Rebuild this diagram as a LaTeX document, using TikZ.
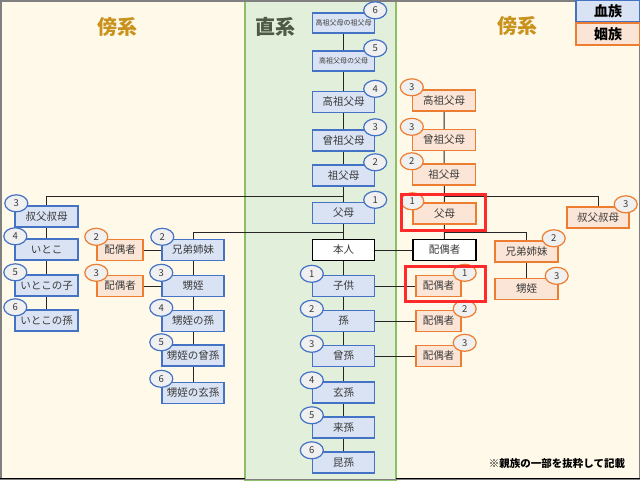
\documentclass[tikz,border=0pt]{standalone}
\usepackage{fontspec}
\setmainfont{Noto Sans CJK JP}
\usetikzlibrary{shapes.geometric}
\definecolor{cream}{HTML}{FFF9EA}
\definecolor{panelg}{HTML}{E2EFDA}
\definecolor{paneledge}{HTML}{8CC068}
\definecolor{bfill}{HTML}{DAE3F3}
\definecolor{bedge}{HTML}{4472C4}
\definecolor{ofill}{HTML}{FBE5D6}
\definecolor{oedge}{HTML}{ED7D31}
\definecolor{gold}{HTML}{C8921C}
\definecolor{dgreen}{HTML}{4F5A46}
\definecolor{txt}{HTML}{3A3A3A}
\definecolor{hred}{HTML}{FF2A2A}
\pgfdeclarelayer{bg}
\pgfdeclarelayer{lines}
\pgfsetlayers{bg,lines,main}
\tikzset{
 box/.style={rectangle, line width=1.4pt, minimum height=21pt, inner sep=0pt, text=txt, font=\fontsize{10.5}{12}\selectfont},
 blu/.style={box, draw=bedge, fill=bfill, minimum width=62pt},
 tiny/.style={font=\fontsize{7}{8}\selectfont},
 org/.style={box, draw=oedge, fill=ofill, minimum width=63pt},
 orgs/.style={org, minimum width=45pt},
 wht/.style={box, draw=black, fill=white, minimum width=62pt},
 bdg/.style={ellipse, fill=white!94!black, line width=1.2pt, minimum width=23pt, minimum height=17pt, inner sep=0pt, text=txt, font=\fontsize{9.5}{9.5}\selectfont},
 bb/.style={bdg, draw=bedge},
 ob/.style={bdg, draw=oedge},
 conn/.style={line width=1pt, draw=black!85},
 title/.style={font=\bfseries\fontsize{20}{20}\selectfont},
 legend/.style={rectangle, line width=1.2pt, minimum width=64pt, minimum height=22pt, inner sep=0pt, font=\bfseries\fontsize{14}{14}\selectfont},
 hl/.style={draw=hred, line width=3pt},
}
\begin{document}
\begin{tikzpicture}[x=1pt,y=-1pt]
\useasboundingbox (0,0) rectangle (640,480);
\begin{pgfonlayer}{bg}
 \fill[cream] (0,0) rectangle (640,480);
 \fill[panelg] (245,0) rectangle (396,480);
 \draw[paneledge, line width=1.5pt] (245,0) rectangle (396,480);
 \draw[black!50, line width=1.5pt] (0.75,0.75) rectangle (639.25,479.25);
 \draw[black, line width=1.2pt] (0,478.5) -- (245,478.5) (396,478.5) -- (640,478.5);
\end{pgfonlayer}

% titles and legend
\node[title, text=gold] (tl) at (117,27) {傍系};
\node[title, text=dgreen] (tc) at (275,27) {直系};
\node[title, text=gold] (tr) at (517,26) {傍系};
\node[legend, draw=bedge, fill=bfill] (lg1) at (608,11) {血族};
\node[legend, draw=oedge, fill=ofill] (lg2) at (608,34) {姻族};
\node[font=\bfseries\fontsize{10.5}{12}\selectfont] (note) at (557,464) {※親族の一部を抜粋して記載};

% center column
\node[blu, tiny, minimum height=20pt] (c6) at (343.5,23) {高祖父母の祖父母};
\node[blu, tiny, minimum height=20pt] (c5) at (343.5,61) {高祖父母の父母};
\node[blu] (c4) at (343.5,102) {高祖父母};
\node[blu] (c3) at (343.5,140.5) {曾祖父母};
\node[blu] (c2) at (343.5,175.5) {祖父母};
\node[blu] (c1) at (343.5,213) {父母};
\node[wht] (me) at (343.5,250) {本人};
\node[blu] (d1) at (343.5,286) {子供};
\node[blu] (d2) at (343.5,321) {孫};
\node[blu] (d3) at (343.5,356) {曾孫};
\node[blu] (d4) at (343.5,392.5) {玄孫};
\node[blu] (d5) at (343.5,427.5) {来孫};
\node[blu] (d6) at (343.5,462.5) {昆孫};
\node[bb] (bc6) at ([yshift=2pt]c6.north east) {6};
\node[bb] (bc5) at ([yshift=2pt]c5.north east) {5};
\node[bb] (bc4) at ([yshift=2pt]c4.north east) {4};
\node[bb] (bc3) at ([yshift=2pt]c3.north east) {3};
\node[bb] (bc2) at ([yshift=2pt]c2.north east) {2};
\node[bb] (bc1) at ([yshift=2pt]c1.north east) {1};
\node[bb] (bd1) at ([yshift=1pt]d1.north west) {1};
\node[bb] (bd2) at ([yshift=1pt]d2.north west) {2};
\node[bb] (bd3) at ([yshift=1pt]d3.north west) {3};
\node[bb] (bd4) at ([yshift=1pt]d4.north west) {4};
\node[bb] (bd5) at ([yshift=1pt]d5.north west) {5};
\node[bb] (bd6) at ([yshift=1pt]d6.north west) {6};

% left: cousins
\node[blu, minimum width=63pt] (u1) at (46.5,216.5) {叔父叔母};
\node[blu, minimum width=63pt] (u2) at (46.5,249.5) {いとこ};
\node[blu, minimum width=63pt] (u3) at (46.5,285.5) {いとこの子};
\node[blu, minimum width=63pt] (u4) at (46.5,320.5) {いとこの孫};
\node[bb] (bu1) at ([xshift=2pt,yshift=2pt]u1.north west) {3};
\node[bb] (bu2) at ([xshift=1pt,yshift=2pt]u2.north west) {4};
\node[bb] (bu3) at ([xshift=1pt,yshift=2pt]u3.north west) {5};
\node[bb] (bu4) at ([xshift=1pt,yshift=2pt]u4.north west) {6};

% left: siblings
\node[orgs, minimum width=46pt] (ps2) at (120,250) {配偶者};
\node[orgs, minimum width=46pt] (ps3) at (120,286) {配偶者};
\node[ob] (bps2) at ([yshift=2pt]ps2.north west) {2};
\node[ob] (bps3) at ([yshift=2pt]ps3.north west) {3};
\node[blu] (s2) at (193,250) {兄弟姉妹};
\node[blu] (s3) at (193,286) {甥姪};
\node[blu] (s4) at (193,321) {甥姪の孫};
\node[blu] (s5) at (193,355.5) {甥姪の曾孫};
\node[blu] (s6) at (193,393) {甥姪の玄孫};
\node[bb] (bs2) at ([xshift=1pt,yshift=2pt]s2.north west) {2};
\node[bb] (bs3) at ([yshift=2pt]s3.north west) {3};
\node[bb] (bs4) at ([yshift=2pt]s4.north west) {4};
\node[bb] (bs5) at ([yshift=2pt]s5.north west) {5};
\node[bb] (bs6) at ([yshift=3pt]s6.north west) {6};

% right: in-laws
\node[org] (r4) at (444,100.5) {高祖父母};
\node[org] (r3) at (444,140) {曾祖父母};
\node[org] (r2) at (444,174.5) {祖父母};
\node[org] (r1) at (444.5,213.5) {父母};
\node[wht, minimum width=63pt] (sp) at (444.5,250) {配偶者};
\node[ob] (br4) at ([yshift=2pt]r4.north west) {3};
\node[ob] (br3) at ([yshift=2pt]r3.north west) {3};
\node[ob] (br2) at ([yshift=2pt]r2.north west) {2};
\node[ob] (br1) at ([yshift=1pt]r1.north west) {1};
\node[org, minimum width=62pt] (ru) at (598,217.5) {叔父叔母};
\node[ob] (bru) at ([xshift=-4pt,yshift=2pt]ru.north east) {3};
\node[org] (rs2) at (526.5,251.5) {兄弟姉妹};
\node[org] (rs3) at (526.5,289) {甥姪};
\node[ob] (brs2) at ([xshift=-5pt,yshift=2pt]rs2.north east) {2};
\node[ob] (brs3) at ([xshift=-2pt,yshift=2pt]rs3.north east) {3};
\node[orgs] (sd1) at (438.5,286) {配偶者};
\node[orgs] (sd2) at (438.5,321) {配偶者};
\node[orgs] (sd3) at (438.5,356) {配偶者};
\node[ob] (bsd1) at ([xshift=3pt,yshift=2pt]sd1.north east) {1};
\node[ob] (bsd2) at ([xshift=3pt,yshift=1pt]sd2.north east) {2};
\node[ob] (bsd3) at ([xshift=3pt,yshift=2pt]sd3.north east) {3};

% highlight frames
\draw[hl] (401,194) rectangle (485,230);
\draw[hl] (405,266) rectangle (485,301);

% connectors
\coordinate (jL) at (343.5,196);
\coordinate (jS) at (343.5,232);
\coordinate (jR1) at (444,196);
\coordinate (jR2) at (444,232);
\begin{pgfonlayer}{lines}
 \draw[conn] (c6) -- (d6);
 \draw[conn] (u1) |- (jL);
 \draw[conn] (u1) -- (u4);
 \draw[conn] (s2) |- (jS);
 \draw[conn] (s2) -- (s6);
 \draw[conn] (ps2) -- (s2);
 \draw[conn] (ps3) -- (s3);
 \draw[conn] (r4) -- (sp);
 \draw[conn] (ru) |- (jR1);
 \draw[conn] (rs2) |- (jR2);
 \draw[conn] (rs2) -- (rs3);
 \draw[conn] (me) -- (sp);
 \draw[conn] (d1) -- (sd1);
 \draw[conn] (d2) -- (sd2);
 \draw[conn] (d3) -- (sd3);
\end{pgfonlayer}
\end{tikzpicture}
\end{document}
